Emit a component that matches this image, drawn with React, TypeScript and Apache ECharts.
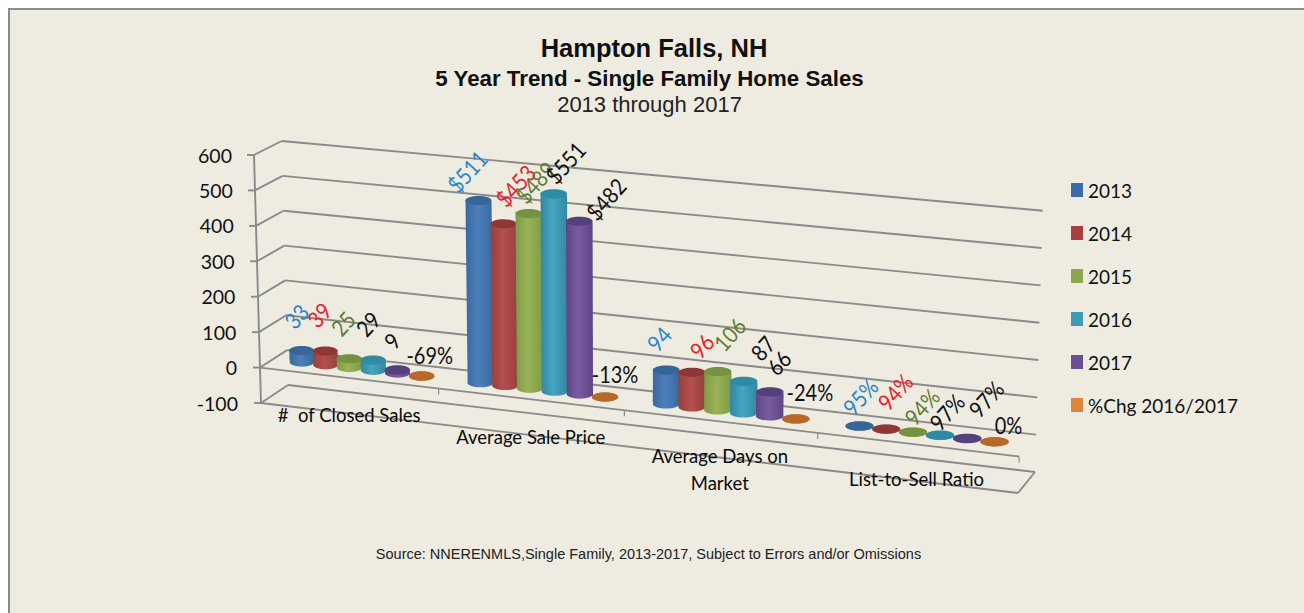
import React, { useEffect, useRef } from "react";
import * as echarts from "echarts";

const categories = ["#  of Closed Sales", "Average Sale Price", "Average Days on\nMarket", "List-to-Sell Ratio"];
const seriesNames = ["2013", "2014", "2015", "2016", "2017", "%Chg 2016/2017"];
const values2013 = [33, 511, 94, 0.95];
const values2014 = [39, 453, 96, 0.94];
const values2015 = [25, 489, 106, 0.94];
const values2016 = [29, 551, 87, 0.97];
const values2017 = [9, 482, 66, 0.97];
const valuesChg = [-0.69, -0.13, -0.24, 0];
const labels2013 = ["33", "$511", "94", "95%"];
const labels2014 = ["39", "$453", "96", "94%"];
const labels2015 = ["25", "$489", "106", "94%"];
const labels2016 = ["29", "$551", "87", "97%"];
const labels2017 = ["9", "$482", "66", "97%"];
const labelsChg = ["-69%", "-13%", "-24%", "0%"];
const yTicks = [-100, 0, 100, 200, 300, 400, 500, 600];

const allValues = [values2013, values2014, values2015, values2016, values2017, valuesChg];
const allLabels = [labels2013, labels2014, labels2015, labels2016, labels2017, labelsChg];

// styling
const legendColors = ["#3C6DA8", "#A83F3F", "#8BA64E", "#3E9BB8", "#6B4E94", "#DF853B"];
const edgeColors = ["#3A689F", "#96403E", "#7F9A45", "#34879F", "#5E4584", "#B5652A"];
const midColors = ["#4C80BC", "#B5504E", "#98B456", "#45A5C0", "#7A5CA3", "#C07030"];
const topColors = ["#366597", "#8E3735", "#76913F", "#2F8AA3", "#54407A", "#B8692A"];
const labelColors = ["#2B86C5", "#E8202A", "#5E7D34", "#111111", "#111111", "#111111"];
const labelRotation = [48, 48, 48, 48, 48, 0];
// label centre relative to the top of its column, per series then per category
const labelNudge = [
  [[-5, -34], [-11, -29], [-7, -31], [1, -29]],
  [[-6, -36], [12, -38], [10, -26], [9, -37]],
  [[-6, -35], [7, -31], [12, -37], [9, -25]],
  [[-5, -36], [12, -31], [19, -33], [7, -23]],
  [[-5, -29], [27, -22], [9, -29], [19, -39]],
  [[8, -21], [10, -23], [14, -27], [14, -16]],
];
const categoryLabelDy = [2, 2, 12, -2];

const GRID_LEFT = 254, GRID_TOP = 155, GRID_W = 764, GRID_H = 248;
const BAR_STEP = 0.135 / 4, BAR_DEPTH = 0.5, RY = 4.6;
const PERSPECTIVE = 0.0833;

// Corners of the drawn box: [depth][right][top]
const corners = [
  [[[261, 403], [254, 155]], [[1018, 493], [1025.7, 237.5]]],
  [[[288, 385], [281.7, 141]], [[1035, 472], [1042.7, 210.7]]],
];
const mix = (a: number[], b: number[], t: number) => [a[0] + (b[0] - a[0]) * t, a[1] + (b[1] - a[1]) * t];

// Takes a position from the cartesian axes (pixels) and tilts it into the drawn 3D box.
function tilt(px: number, py: number, depth: number) {
  const s = (px - GRID_LEFT) / GRID_W;
  const vf = (GRID_TOP + GRID_H - py) / GRID_H;
  const t = s / (1 + PERSPECTIVE * (1 - s));
  const plane = (c: number[][][]) => mix(mix(c[0][0], c[0][1], vf), mix(c[1][0], c[1][1], vf), t);
  return mix(plane(corners[0]), plane(corners[1]), depth);
}

const LINE = "#8A8A8A";
const lineEl = (a: number[], b: number[], w = 1.9) => ({
  type: "line",
  shape: { x1: a[0], y1: a[1], x2: b[0], y2: b[1] },
  style: { stroke: LINE, lineWidth: w },
  silent: true,
});

function renderGridline(_p: any, api: any) {
  const c = api.coord([0, api.value(1)]);
  const frontL = tilt(GRID_LEFT, c[1], 0);
  const backL = tilt(GRID_LEFT, c[1], 1);
  const backR = tilt(GRID_LEFT + GRID_W, c[1], 1);
  return {
    type: "group",
    children: [
      lineEl([frontL[0] - 7, frontL[1]], frontL),
      lineEl(frontL, backL),
      lineEl(backL, backR),
    ],
  };
}

function renderFrame(_p: any, api: any) {
  const R = GRID_LEFT + GRID_W;
  const zeroY = api.coord([0, 0])[1];
  const botY = GRID_TOP + GRID_H;
  const children: any[] = [
    lineEl(tilt(GRID_LEFT, GRID_TOP, 0), tilt(GRID_LEFT, botY, 0)),
    lineEl(tilt(GRID_LEFT, zeroY, 0), tilt(R, zeroY, 0)),
    lineEl(tilt(GRID_LEFT, botY, 0), tilt(R, botY, 0)),
    lineEl(tilt(R, botY, 0), tilt(R, botY, 1)),
  ];
  for (let i = 0; i <= categories.length; i++) {
    const p = tilt(GRID_LEFT + (GRID_W * i) / categories.length, zeroY, 0);
    children.push(lineEl(p, [p[0], p[1] + 6], 1.2));
  }
  return { type: "group", children };
}

const renderCategoryLabel = (_p: any, api: any) => {
  const i = api.value(0);
  const c = api.coord([i, -100]);
  const p = tilt(c[0], c[1], 0);
  return {
    type: "text",
    x: p[0],
    y: p[1] + categoryLabelDy[i],
    z2: 100,
    silent: true,
    style: {
      text: categories[i],
      x: 0,
      y: 0,
      align: "center",
      verticalAlign: "middle",
      fontFamily: "Lato",
      fontSize: 18.5,
      lineHeight: 27,
      fill: "#0A0A0A",
    },
  };
};

const makeRenderColumn = (si: number) => (_p: any, api: any) => {
  const cat = api.value(0);
  const v = api.value(1);
  const top = api.coord([cat, v]);
  const base = api.coord([cat, 0]);
  const dx = (si - 2.5) * BAR_STEP * GRID_W;
  const half = (BAR_STEP * GRID_W) / 2 + 0.6;
  const tl = tilt(top[0] + dx - half, top[1], BAR_DEPTH);
  const tr = tilt(top[0] + dx + half, top[1], BAR_DEPTH);
  const bl = tilt(base[0] + dx - half, base[1], BAR_DEPTH);
  const br = tilt(base[0] + dx + half, base[1], BAR_DEPTH);
  const tc = mix(tl, tr, 0.5);
  const bc = mix(bl, br, 0.5);
  const rx = (tr[0] - tl[0]) / 2;
  const grad = new echarts.graphic.LinearGradient(0, 0, 1, 0, [
    { offset: 0, color: edgeColors[si] },
    { offset: 0.45, color: midColors[si] },
    { offset: 1, color: edgeColors[si] },
  ]);
  const nudge = labelNudge[si][cat];
  return {
    type: "group",
    children: [
      { type: "ellipse", silent: true, shape: { cx: bc[0], cy: bc[1], rx, ry: RY }, style: { fill: grad } },
      {
        type: "polygon",
        silent: true,
        shape: { points: [bl, br, tr, tl] },
        style: { fill: grad },
      },
      { type: "ellipse", silent: true, shape: { cx: tc[0], cy: tc[1], rx, ry: RY }, style: { fill: topColors[si] } },
      {
        type: "text",
        silent: true,
        x: tc[0] + nudge[0],
        y: tc[1] + nudge[1],
        rotation: (labelRotation[si] * Math.PI) / 180,
        scaleY: 1.14,
        z2: 100,
        style: {
          text: allLabels[si][cat],
          x: 0,
          y: 0,
          align: "center",
          verticalAlign: "middle",
          fontFamily: "Lato",
          fontSize: 20,
          fill: labelColors[si],
        },
      },
    ],
  };
};

const tickKey = (v: number) => (v < 0 ? "m" : "p") + Math.abs(v);
const tickRich: Record<string, any> = {};
yTicks.forEach((v) => {
  tickRich[tickKey(v)] = {
    fontFamily: "Lato",
    fontSize: 19.5,
    color: "#111111",
    padding: [0, ((v + 100) / 700) * 6, 0, 0],
  };
});

export default function App() {
  const ref = useRef<HTMLDivElement>(null);
  useEffect(() => {
    const chart = echarts.init(ref.current!, undefined, { renderer: "svg" });
    chart.setOption({
      animation: false,
      backgroundColor: "#ffffff",
      graphic: [
        {
          type: "rect",
          z: -10,
          silent: true,
          shape: { x: 9, y: 9, width: 1500, height: 800 },
          style: { fill: "#EEEBE1", stroke: "#8C8C8C", lineWidth: 2 },
        },
      ],
      title: [
        {
          left: 649,
          textAlign: "center",
          top: 30,
          text: "Hampton Falls, NH",
          textStyle: { fontFamily: "Liberation Sans", fontSize: 25.5, fontWeight: "bold", color: "#111111" },
        },
        {
          left: 644.5,
          textAlign: "center",
          top: 62,
          text: "5 Year Trend - Single Family Home Sales",
          textStyle: { fontFamily: "Liberation Sans", fontSize: 22.3, fontWeight: "bold", color: "#111111" },
        },
        {
          left: 644.5,
          textAlign: "center",
          top: 88,
          text: "2013 through 2017",
          textStyle: { fontFamily: "Liberation Sans", fontSize: 22, fontWeight: "normal", color: "#222222" },
        },
        {
          left: 643.5,
          textAlign: "center",
          top: 541,
          text: "Source: NNERENMLS,Single Family, 2013-2017, Subject to Errors and/or Omissions",
          textStyle: { fontFamily: "Liberation Sans", fontSize: 14.5, fontWeight: "normal", color: "#222222" },
        },
      ],
      legend: {
        left: 1066,
        top: 175.5,
        orient: "vertical",
        icon: "rect",
        itemWidth: 12,
        itemHeight: 14,
        itemGap: 24,
        selectedMode: false,
        data: seriesNames,
        textStyle: { fontFamily: "Lato", fontSize: 19, color: "#111111" },
      },
      grid: { left: GRID_LEFT, top: GRID_TOP, width: GRID_W, height: GRID_H },
      xAxis: { type: "category", data: categories, show: false },
      yAxis: {
        type: "value",
        min: -100,
        max: 600,
        interval: 100,
        splitLine: { show: false },
        axisLine: { show: false },
        axisTick: { show: false },
        axisLabel: {
          margin: 16,
          align: "right",
          formatter: (v: number) => `{${tickKey(v)}|${v}}`,
          rich: tickRich,
        },
      },
      series: [
        {
          type: "custom",
          name: "gridlines",
          z: 1,
          silent: true,
          renderItem: renderGridline,
          data: yTicks.map((v) => [0, v]),
        },
        {
          type: "custom",
          name: "frame",
          z: 1,
          silent: true,
          renderItem: renderFrame,
          data: [[0, 0]],
        },
        ...seriesNames.map((name, si) => ({
          type: "custom",
          name,
          z: 3,
          silent: true,
          itemStyle: { color: legendColors[si] },
          renderItem: makeRenderColumn(si),
          data: allValues[si].map((v, c) => [c, v]),
        })),
        {
          type: "custom",
          name: "categoryLabels",
          z: 4,
          silent: true,
          renderItem: renderCategoryLabel,
          data: categories.map((_, i) => [i, -100]),
        },
      ],
    });
    return () => chart.dispose();
  }, []);
  return <div ref={ref} style={{ position: "fixed", left: 0, top: 0, width: 1304, height: 613 }} />;
}
